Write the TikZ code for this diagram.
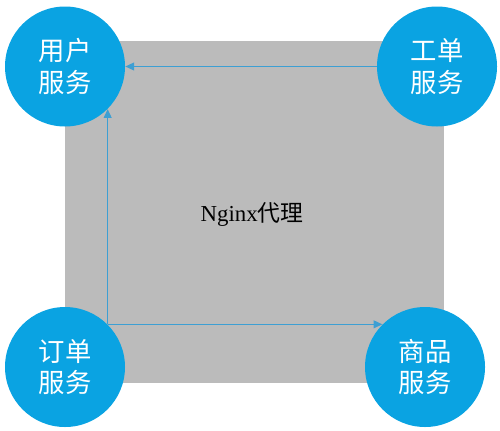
\documentclass[tikz,border=0pt]{standalone}
\usepackage{fontspec}
\setmainfont{Liberation Serif}
\newfontfamily\cjk{Noto Sans CJK SC}
\usetikzlibrary{arrows.meta}
\definecolor{svcblue}{HTML}{0AA3E2}
\definecolor{proxygray}{HTML}{BBBBBB}
\definecolor{linkblue}{HTML}{3D9FD3}
\begin{document}
\begin{tikzpicture}[
	svc/.style={shape=circle, fill=svcblue, text=white, minimum size=2.4cm, inner sep=0pt,
		align=center, font=\cjk\fontsize{15}{18}\selectfont},
	link/.style={-{Triangle[length=5pt,width=4.5pt]}, linkblue, line width=0.7pt}
]
	\useasboundingbox (0,0) rectangle (10,-8.6);
	\fill[proxygray] (1.3,-0.82) rectangle (8.88,-7.66);
	\node[font=\fontsize{13}{15}\selectfont] (nginx) at (5.04,-4.28) {Nginx{\cjk 代理}};

	\node[svc] (user)   at (1.3,-1.33)  {用户\\服务};
	\node[svc] (ticket) at (8.74,-1.33) {工单\\服务};
	\node[svc] (order)  at (1.3,-7.34)  {订单\\服务};
	\node[svc] (goods)  at (8.5,-7.34)  {商品\\服务};

	\path [link] (ticket) edge (user);
	\path [link] (order.45) edge (user.-45);
	\path [link] (order.45) edge (goods.135);
\end{tikzpicture}
\end{document}
